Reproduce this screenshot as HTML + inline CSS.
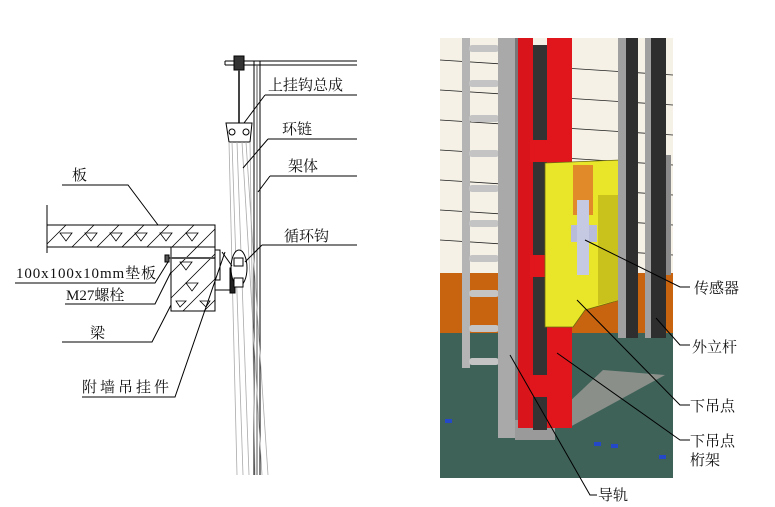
<!DOCTYPE html>
<html><head><meta charset="utf-8"><style>
html,body{margin:0;padding:0;background:#fff;}
svg{display:block}
text{font-family:"Liberation Serif","Noto Serif CJK SC",serif;font-size:15px;fill:#111}
</style></head><body>
<svg width="775" height="507" viewBox="0 0 775 507" xmlns="http://www.w3.org/2000/svg">
<rect width="775" height="507" fill="#fff"/>
<!-- LEFT DRAWING -->
<g stroke="#000" stroke-width="1" fill="none">
  <line x1="225" y1="61" x2="357" y2="61"/>
  <line x1="225" y1="65" x2="357" y2="65"/>
  <line x1="225" y1="61" x2="225" y2="65"/>
  <line x1="254" y1="61" x2="254" y2="475"/>
  <line x1="257" y1="65" x2="257" y2="475" stroke="#555"/>
  <line x1="260" y1="61" x2="260" y2="475"/>
  <rect x="234" y="56" width="10" height="14" fill="#333"/>
  <line x1="239" y1="70" x2="239" y2="123" stroke="#444" stroke-width="2"/>
  <path d="M226 123 L252 123 L250 142 L229 142 Z" fill="#fff"/>
  <circle cx="232" cy="132" r="3"/><circle cx="246" cy="132" r="3"/>
</g>
<!-- chains -->
<g stroke="#aaa" stroke-width="0.8" fill="none">
  <line x1="229" y1="142" x2="237" y2="475"/>
  <line x1="232" y1="142" x2="243" y2="475"/>
  <line x1="237" y1="142" x2="249" y2="475"/>
  <line x1="242" y1="142" x2="262" y2="475"/>
  <line x1="246" y1="142" x2="268" y2="475"/>
  <line x1="250" y1="142" x2="255" y2="475"/>
</g>
<g stroke="#000" stroke-width="1" fill="none">
  <line x1="47" y1="205" x2="47" y2="253"/>
  <rect x="47" y="225" width="168" height="22" fill="#fff"/>
  <rect x="171" y="247" width="44" height="64" fill="#fff"/>
  <line x1="47" y1="247" x2="171" y2="247"/>
  <g stroke-width="0.8">
    <path d="M60 233 L66 241 L72 233 Z M85 233 L91 241 L97 233 Z M110 233 L116 241 L122 233 Z M135 233 L141 241 L147 233 Z M160 233 L166 241 L172 233 Z M186 233 L192 241 L198 233 Z M180 262 L186 270 L192 262 Z M186 283 L192 291 L198 283 Z M176 301 L180 307 L186 301 Z M200 301 L206 307 L210 301 Z"/>
    <line x1="47" y1="244" x2="66" y2="225"/><line x1="72" y1="247" x2="94" y2="225"/>
    <line x1="97" y1="247" x2="119" y2="225"/><line x1="122" y1="247" x2="144" y2="225"/>
    <line x1="147" y1="247" x2="169" y2="225"/><line x1="172" y1="247" x2="194" y2="225"/>
    <line x1="171" y1="273" x2="215" y2="229"/><line x1="171" y1="298" x2="215" y2="254"/>
    <line x1="183" y1="311" x2="215" y2="279"/><line x1="204" y1="311" x2="215" y2="300"/>
  </g>
  <line x1="168" y1="258" x2="220" y2="258" stroke-width="2" stroke="#555"/>
  <rect x="165" y="255" width="4" height="7" fill="#555"/>
  <rect x="215" y="250" width="5" height="30" fill="#fff"/>
  <line x1="215" y1="290" x2="232" y2="290"/>
  <rect x="230" y="268" width="5" height="25" fill="#222"/>
  <ellipse cx="239" cy="268" rx="8" ry="18" fill="#fff"/>
  <rect x="234" y="258" width="9" height="8" fill="#fff"/><rect x="234" y="278" width="9" height="9" fill="#fff"/>
  <line x1="222" y1="252" x2="232" y2="266"/>
  <polyline points="265,95 357,95"/><line x1="265" y1="95" x2="244" y2="123"/>
  <polyline points="268,139 357,139"/><line x1="268" y1="139" x2="243" y2="168"/>
  <polyline points="270,176 357,176"/><line x1="270" y1="176" x2="258" y2="192"/>
  <polyline points="262,245 357,245"/><line x1="262" y1="245" x2="245" y2="262"/>
  <polyline points="62,185 128,185 158,225"/>
  <polyline points="15,283 155,283 168,262"/>
  <polyline points="65,304 155,304 171,272"/>
  <polyline points="62,342 152,342 171,305"/>
  <polyline points="82,397 175,397 225,252"/>
</g>
<text x="268" y="90">上挂钩总成</text>
<text x="282" y="134">环链</text>
<text x="288" y="171">架体</text>
<text x="284" y="241">循环钩</text>
<text x="72" y="180">板</text>
<text x="16" y="278" textLength="140">100x100x10mm垫板</text>
<text x="66" y="300">M27螺栓</text>
<text x="90" y="338">梁</text>
<text x="82" y="392" letter-spacing="3">附墙吊挂件</text>

<!-- RIGHT PHOTO -->
<rect x="440" y="38" width="233" height="440" fill="#f5f1e6"/>
<g stroke="#222" stroke-width="0.8">
  <line x1="440" y1="60" x2="673" y2="75"/><line x1="440" y1="90" x2="673" y2="105"/>
  <line x1="440" y1="120" x2="673" y2="135"/><line x1="440" y1="150" x2="673" y2="165"/>
  <line x1="440" y1="180" x2="673" y2="195"/><line x1="440" y1="210" x2="673" y2="225"/>
  <line x1="440" y1="240" x2="673" y2="255"/>
</g>
<rect x="440" y="273" width="233" height="60" fill="#c8630f"/>
<rect x="440" y="333" width="233" height="145" fill="#3e6258"/>
<polygon points="603,370 665,375 568,428 548,422" fill="#8a8f8a"/>
<!-- ladder -->
<rect x="462" y="38" width="8" height="330" fill="#b4b4b4"/>
<g fill="#c4c4c4"><rect x="469" y="45" width="30" height="7" rx="3"/><rect x="469" y="80" width="30" height="7" rx="3"/><rect x="469" y="115" width="30" height="7" rx="3"/><rect x="469" y="150" width="30" height="7" rx="3"/><rect x="469" y="185" width="30" height="7" rx="3"/><rect x="469" y="220" width="30" height="7" rx="3"/><rect x="469" y="255" width="30" height="7" rx="3"/><rect x="469" y="290" width="30" height="7" rx="3"/><rect x="469" y="325" width="30" height="7" rx="3"/><rect x="469" y="358" width="30" height="7" rx="3"/></g>
<rect x="498" y="38" width="17" height="400" fill="#a9a9a9"/>
<rect x="515" y="38" width="4" height="400" fill="#777"/>
<rect x="515" y="420" width="40" height="20" fill="#9a9a9a"/>
<rect x="518" y="38" width="15" height="390" fill="#d9141a"/>
<rect x="533" y="45" width="14" height="385" fill="#333"/>
<rect x="547" y="38" width="25" height="390" fill="#e0161c"/>
<rect x="530" y="140" width="20" height="22" fill="#e0161c"/><rect x="530" y="255" width="20" height="22" fill="#e0161c"/><rect x="530" y="375" width="20" height="22" fill="#e0161c"/>
<path d="M545 163 L620 160 L620 300 L585 310 L573 327 L545 327 Z" fill="#e9e62a" stroke="#6d6a10" stroke-width="0.8"/>
<path d="M598 195 L620 195 L620 300 L598 305 Z" fill="#c9c21c"/>
<rect x="573" y="165" width="20" height="50" fill="#e08a2a"/>
<rect x="571" y="225" width="26" height="17" fill="#b8bcd8"/>
<rect x="577" y="200" width="12" height="75" fill="#c6c9e2"/>
<rect x="618" y="38" width="8" height="300" fill="#a0a0a0"/>
<rect x="626" y="38" width="12" height="300" fill="#2e2e2e"/>
<rect x="645" y="38" width="6" height="300" fill="#a0a0a0"/>
<rect x="651" y="38" width="15" height="300" fill="#2e2e2e"/>
<rect x="666" y="155" width="5" height="120" fill="#8a8a8a"/>
<g fill="#2448c8"><rect x="445" y="419" width="7" height="4"/><rect x="594" y="442" width="7" height="4"/><rect x="611" y="444" width="7" height="4"/><rect x="659" y="455" width="7" height="4"/></g>
<g stroke="#000" stroke-width="1" fill="none">
  <polyline points="585,240 680,287 690,287"/>
  <polyline points="656,318 680,345 690,345"/>
  <polyline points="577,300 680,405 690,405"/>
  <polyline points="557,353 680,440 690,440"/>
  <polyline points="510,355 590,495 597,495"/>
</g>
<text x="694" y="293">传感器</text>
<text x="692" y="352">外立杆</text>
<text x="690" y="411">下吊点</text>
<text x="690" y="446">下吊点</text>
<text x="690" y="465">桁架</text>
<text x="598" y="500">导轨</text>
</svg>
</body></html>
